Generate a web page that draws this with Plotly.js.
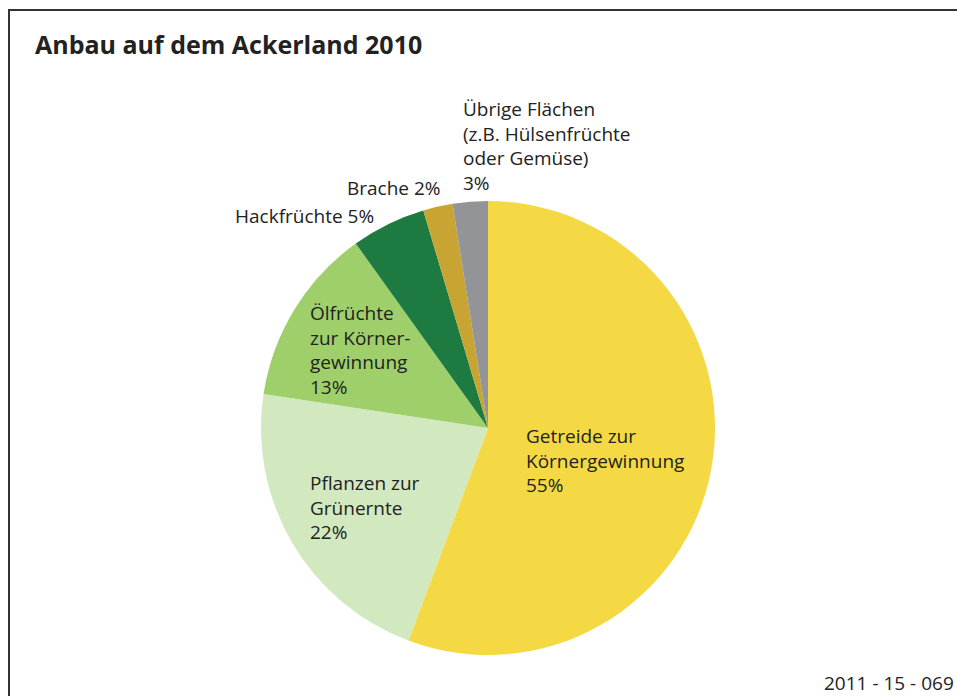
<!DOCTYPE html>
<html><head><meta charset="utf-8">
<script src="https://cdn.plot.ly/plotly-3.0.1.min.js"></script>
<style>html,body{margin:0;padding:0;background:#fff}#c{width:957px;height:696px}</style>
</head><body><div id="c"></div>
<script>
const categories = ["Getreide zur Körnergewinnung","Pflanzen zur Grünernte","Ölfrüchte zur Körnergewinnung","Hackfrüchte","Brache","Übrige Flächen (z.B. Hülsenfrüchte oder Gemüse)"];
// shares (labels show rounded percentages)
const values = [55.7, 21.7, 12.7, 5.3, 2.1, 2.5];
const colors = ["#F4D944","#D2E8BF","#9ECF6A","#1D7B41","#C8A432","#929497"];
const labelTexts = [
  "Getreide zur<br>Körnergewinnung<br>55%",
  "Pflanzen zur<br>Grünernte<br>22%",
  "Ölfrüchte<br>zur Körner-<br>gewinnung<br>13%",
  "Hackfrüchte 5%",
  "Brache 2%",
  "Übrige Flächen<br>(z.B. Hülsenfrüchte<br>oder Gemüse)<br>3%"
];
const W = 957, H = 696;
const cx = 488, cy = 428, r = 227;
const px = x => x / W, py = y => 1 - y / H;
const font = "Open Sans, Noto Sans, sans-serif";
const labelPos = [
  {x:524, y:460, xa:"left"},
  {x:308, y:507, xa:"left"},
  {x:308, y:350, xa:"left"},
  {x:376, y:216, xa:"right"},
  {x:443, y:188, xa:"right"},
  {x:461, y:146, xa:"left"}
];
const annotations = labelTexts.map((t,i)=>({
  text:t, x:px(labelPos[i].x), y:py(labelPos[i].y), xref:"paper", yref:"paper",
  xanchor:labelPos[i].xa, yanchor:"middle", align:"left", showarrow:false,
  font:{family:font, size:19, color:"#222"}
}));
annotations.push({text:"2011 - 15 - 069", x:px(956), y:py(683), xref:"paper", yref:"paper",
  xanchor:"right", yanchor:"middle", showarrow:false, font:{family:font, size:19, color:"#222"}});
const data = [{
  type:"pie", labels:categories, values:values, sort:false, direction:"clockwise", rotation:0,
  marker:{colors:colors, line:{width:0}}, textinfo:"none", hoverinfo:"label+percent",
  domain:{x:[px(cx-r), px(cx+r)], y:[py(cy+r), py(cy-r)]}
}];
const layout = {
  width:W, height:H, margin:{l:0,r:0,t:0,b:0}, showlegend:false,
  paper_bgcolor:"#fff",
  title:{text:"<b>Anbau auf dem Ackerland 2010</b>", x:px(35), xanchor:"left", xref:"paper",
    y:py(45), yanchor:"middle", yref:"paper", font:{family:font, size:25, color:"#222"}},
  annotations:annotations,
  shapes:[{type:"rect", xref:"paper", yref:"paper", x0:px(9), x1:1.05, y0:-0.05, y1:py(10),
    line:{color:"#333", width:2}}]
};
Plotly.newPlot("c", data, layout, {staticPlot:true});
</script></body></html>
